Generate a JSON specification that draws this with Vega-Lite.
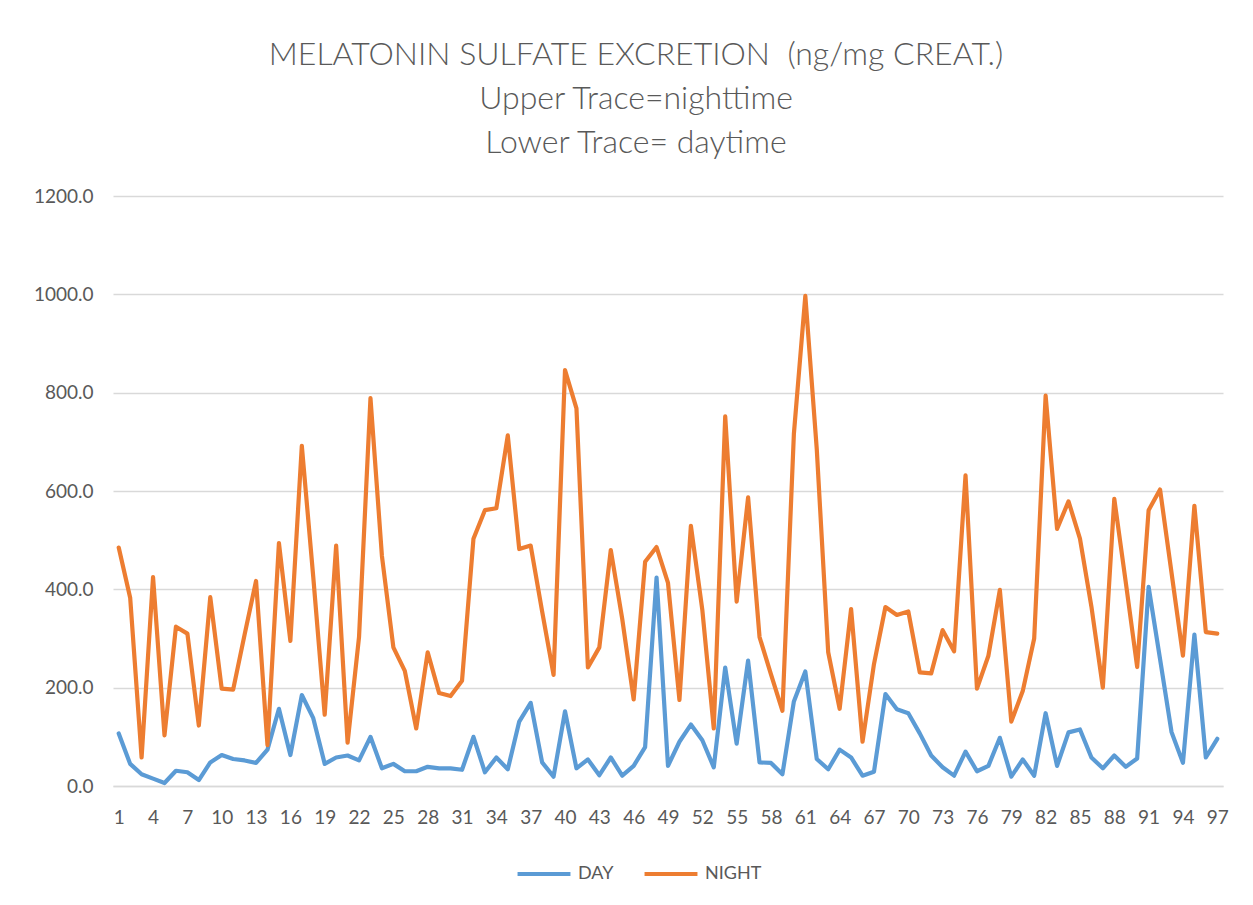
{
  "$schema": "https://vega.github.io/schema/vega-lite/v6.json",
  "width": 1110,
  "height": 590,
  "autosize": {"type": "none"},
  "padding": {"left": 113, "top": 196, "right": 30, "bottom": 119},
  "background": "white",
  "title": {
    "text": ["MELATONIN SULFATE EXCRETION \u00a0(ng/mg CREAT.)", "Upper Trace=nighttime", "Lower Trace= daytime"],
    "anchor": "middle",
    "dx": -32,
    "font": "Lato",
    "fontSize": 32,
    "fontWeight": 300,
    "color": "#595959",
    "lineHeight": 44,
    "offset": 27
  },
  "data": {
    "values": [
      {"n":1,"DAY":107,"NIGHT":485},{"n":2,"DAY":45,"NIGHT":383},{"n":3,"DAY":24,"NIGHT":58},{"n":4,"DAY":15,"NIGHT":425},
      {"n":5,"DAY":6,"NIGHT":103},{"n":6,"DAY":31,"NIGHT":324},{"n":7,"DAY":28,"NIGHT":310},{"n":8,"DAY":12,"NIGHT":123},
      {"n":9,"DAY":48,"NIGHT":384},{"n":10,"DAY":63,"NIGHT":198},{"n":11,"DAY":55,"NIGHT":196},{"n":12,"DAY":52,"NIGHT":308},
      {"n":13,"DAY":47,"NIGHT":417},{"n":14,"DAY":74,"NIGHT":83},{"n":15,"DAY":157,"NIGHT":494},{"n":16,"DAY":63,"NIGHT":295},
      {"n":17,"DAY":185,"NIGHT":692},{"n":18,"DAY":138,"NIGHT":425},{"n":19,"DAY":45,"NIGHT":145},{"n":20,"DAY":58,"NIGHT":489},
      {"n":21,"DAY":62,"NIGHT":88},{"n":22,"DAY":52,"NIGHT":303},{"n":23,"DAY":100,"NIGHT":789},{"n":24,"DAY":36,"NIGHT":468},
      {"n":25,"DAY":45,"NIGHT":282},{"n":26,"DAY":30,"NIGHT":234},{"n":27,"DAY":30,"NIGHT":117},{"n":28,"DAY":39,"NIGHT":272},
      {"n":29,"DAY":36,"NIGHT":189},{"n":30,"DAY":36,"NIGHT":183},{"n":31,"DAY":33,"NIGHT":214},{"n":32,"DAY":100,"NIGHT":503},
      {"n":33,"DAY":28,"NIGHT":561},{"n":34,"DAY":58,"NIGHT":565},{"n":35,"DAY":34,"NIGHT":713},{"n":36,"DAY":131,"NIGHT":482},
      {"n":37,"DAY":169,"NIGHT":489},{"n":38,"DAY":48,"NIGHT":355},{"n":39,"DAY":19,"NIGHT":226},{"n":40,"DAY":152,"NIGHT":846},
      {"n":41,"DAY":36,"NIGHT":768},{"n":42,"DAY":54,"NIGHT":241},{"n":43,"DAY":22,"NIGHT":282},{"n":44,"DAY":58,"NIGHT":480},
      {"n":45,"DAY":21,"NIGHT":340},{"n":46,"DAY":41,"NIGHT":176},{"n":47,"DAY":79,"NIGHT":456},{"n":48,"DAY":424,"NIGHT":486},
      {"n":49,"DAY":41,"NIGHT":413},{"n":50,"DAY":90,"NIGHT":175},{"n":51,"DAY":125,"NIGHT":529},{"n":52,"DAY":93,"NIGHT":358},
      {"n":53,"DAY":38,"NIGHT":117},{"n":54,"DAY":241,"NIGHT":752},{"n":55,"DAY":86,"NIGHT":375},{"n":56,"DAY":255,"NIGHT":587},
      {"n":57,"DAY":48,"NIGHT":303},{"n":58,"DAY":47,"NIGHT":227},{"n":59,"DAY":24,"NIGHT":153},{"n":60,"DAY":172,"NIGHT":716},
      {"n":61,"DAY":233,"NIGHT":997},{"n":62,"DAY":55,"NIGHT":685},{"n":63,"DAY":34,"NIGHT":272},{"n":64,"DAY":74,"NIGHT":157},
      {"n":65,"DAY":58,"NIGHT":360},{"n":66,"DAY":21,"NIGHT":90},{"n":67,"DAY":29,"NIGHT":248},{"n":68,"DAY":187,"NIGHT":364},
      {"n":69,"DAY":156,"NIGHT":348},{"n":70,"DAY":148,"NIGHT":355},{"n":71,"DAY":107,"NIGHT":231},{"n":72,"DAY":62,"NIGHT":229},
      {"n":73,"DAY":38,"NIGHT":317},{"n":74,"DAY":21,"NIGHT":274},{"n":75,"DAY":70,"NIGHT":632},{"n":76,"DAY":30,"NIGHT":198},
      {"n":77,"DAY":41,"NIGHT":265},{"n":78,"DAY":98,"NIGHT":399},{"n":79,"DAY":19,"NIGHT":131},{"n":80,"DAY":54,"NIGHT":193},
      {"n":81,"DAY":21,"NIGHT":300},{"n":82,"DAY":148,"NIGHT":794},{"n":83,"DAY":41,"NIGHT":523},{"n":84,"DAY":109,"NIGHT":579},
      {"n":85,"DAY":115,"NIGHT":503},{"n":86,"DAY":58,"NIGHT":365},{"n":87,"DAY":36,"NIGHT":200},{"n":88,"DAY":62,"NIGHT":584},
      {"n":89,"DAY":39,"NIGHT":415},{"n":90,"DAY":56,"NIGHT":242},{"n":91,"DAY":405,"NIGHT":561},{"n":92,"DAY":258,"NIGHT":603},
      {"n":93,"DAY":110,"NIGHT":434},{"n":94,"DAY":47,"NIGHT":265},{"n":95,"DAY":308,"NIGHT":570},{"n":96,"DAY":58,"NIGHT":313},
      {"n":97,"DAY":96,"NIGHT":310}
    ]
  },
  "transform": [{"fold": ["DAY", "NIGHT"], "as": ["series", "value"]}],
  "mark": {"type": "line", "strokeWidth": 4.2, "strokeJoin": "round", "strokeCap": "round"},
  "encoding": {
    "x": {
      "field": "n",
      "type": "quantitative",
      "scale": {"domain": [0.5, 97.5], "nice": false, "zero": false},
      "axis": {
        "title": null,
        "values": [1,4,7,10,13,16,19,22,25,28,31,34,37,40,43,46,49,52,55,58,61,64,67,70,73,76,79,82,85,88,91,94,97],
        "format": "d",
        "grid": false,
        "ticks": false,
        "tickSize": 0,
        "labelPadding": 22,
        "labelFont": "Lato",
        "labelFontSize": 19,
        "labelColor": "#595959",
        "domainColor": "#d9d9d9",
        "domainWidth": 1.5,
        "labelOverlap": false,
        "labelFlush": false
      }
    },
    "y": {
      "field": "value",
      "type": "quantitative",
      "scale": {"domain": [0, 1200], "nice": false},
      "axis": {
        "title": null,
        "values": [0, 200, 400, 600, 800, 1000, 1200],
        "format": ".1f",
        "domain": false,
        "ticks": false,
        "tickSize": 0,
        "labelPadding": 20,
        "labelFont": "Lato",
        "labelFontSize": 19,
        "labelColor": "#595959",
        "gridColor": "#d9d9d9",
        "gridWidth": 1.5
      }
    },
    "color": {
      "field": "series",
      "type": "nominal",
      "scale": {"domain": ["DAY", "NIGHT"], "range": ["#5B9BD5", "#ED7D31"]},
      "legend": {
        "title": null,
        "orient": "none",
        "direction": "horizontal",
        "legendX": 402,
        "legendY": 649,
        "symbolType": "stroke",
        "symbolSize": 2800,
        "symbolStrokeWidth": 4.2,
        "labelFont": "Lato",
        "labelFontSize": 18,
        "labelColor": "#595959",
        "columnPadding": 22,
        "labelOffset": 5
      }
    }
  },
  "config": {"view": {"stroke": null}}
}
